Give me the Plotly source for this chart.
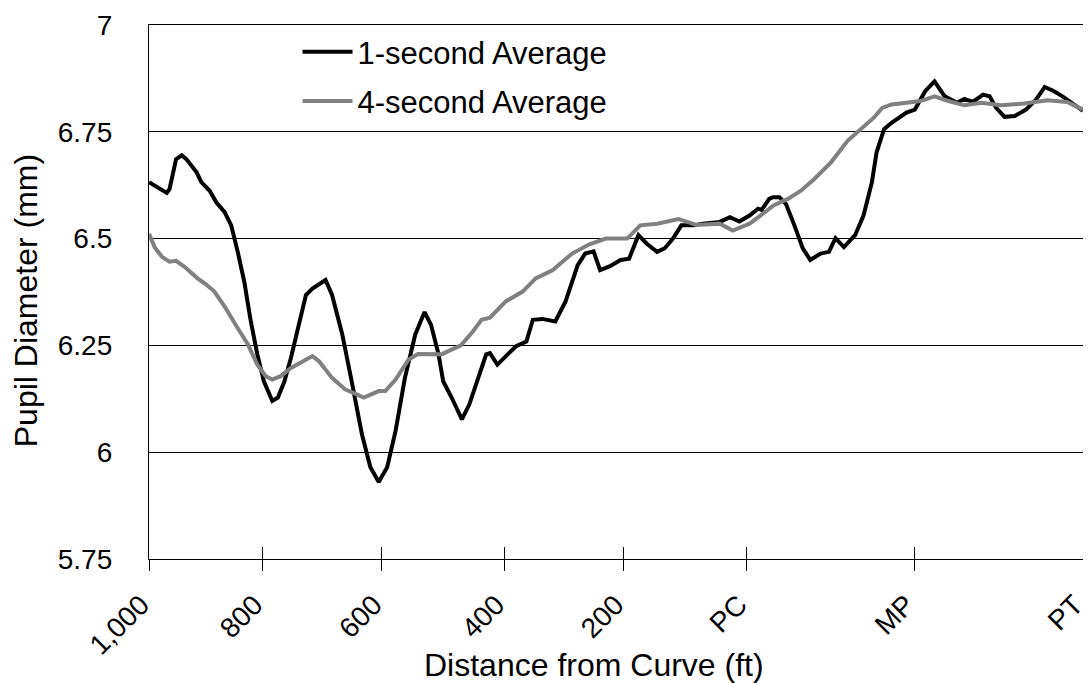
import plotly.graph_objects as go

# Position along the route (% of plotted distance)
pos_1s = [0, 1.9, 2.2, 2.9, 3.5, 4.0, 5.1, 5.6, 6.5, 7.2, 8.1, 8.8, 9.5, 10.2, 10.9, 11.6,
          12.3, 13.2, 13.8, 14.5, 15.2, 15.9, 16.8, 17.5, 18.9, 19.6, 20.7, 21.7, 22.8,
          23.7, 24.6, 25.5, 26.4, 27.4, 28.5, 29.5, 30.2, 31.0, 31.5, 32.4, 33.5, 34.3,
          35.2, 36.1, 36.5, 37.3, 38.4, 39.3, 40.4, 41.1, 42.1, 43.5, 44.6, 45.9, 46.7,
          47.6, 48.3, 49.3, 50.5, 51.4, 52.4, 53.3, 54.4, 55.2, 56.1, 57.0, 58.3, 59.3,
          61.1, 62.2, 63.2, 64.3, 65.2, 65.6, 66.4, 66.8, 67.5, 68.2, 69.1, 70.0, 70.8,
          71.9, 72.8, 73.5, 74.4, 75.6, 76.5, 77.4, 77.9, 78.7, 79.5, 80.4, 81.1, 82.0,
          83.1, 84.1, 85.2, 86.5, 87.3, 88.2, 89.3, 90.0, 90.7, 91.6, 92.7, 93.9, 95.0,
          95.9, 96.9, 97.8, 99.0, 100]
avg_1s = [6.632, 6.607, 6.616, 6.686, 6.695, 6.686, 6.655, 6.632, 6.612, 6.585, 6.562,
          6.531, 6.469, 6.399, 6.306, 6.229, 6.166, 6.120, 6.128, 6.166, 6.221, 6.290,
          6.368, 6.383, 6.403, 6.368, 6.275, 6.166, 6.042, 5.965, 5.930, 5.965, 6.050,
          6.174, 6.275, 6.328, 6.298, 6.229, 6.166, 6.128, 6.077, 6.112, 6.174, 6.229,
          6.232, 6.205, 6.229, 6.248, 6.259, 6.310, 6.312, 6.306, 6.353, 6.438, 6.465,
          6.470, 6.426, 6.435, 6.450, 6.453, 6.508, 6.488, 6.469, 6.477, 6.500, 6.531,
          6.531, 6.535, 6.539, 6.550, 6.540, 6.554, 6.570, 6.567, 6.593, 6.597, 6.597,
          6.581, 6.531, 6.477, 6.450, 6.465, 6.469, 6.501, 6.480, 6.508, 6.554, 6.632,
          6.702, 6.756, 6.771, 6.783, 6.795, 6.802, 6.845, 6.868, 6.833, 6.818, 6.827,
          6.820, 6.837, 6.833, 6.806, 6.785, 6.787, 6.802, 6.826, 6.855, 6.845, 6.833,
          6.814, 6.799]

pos_4s = [0, 0.6, 1.4, 2.2, 2.9, 3.8, 5.2, 6.1, 7.0, 8.1, 9.5, 10.6, 11.6, 12.5, 13.2,
          14.1, 15.2, 16.2, 17.5, 18.2, 19.6, 21.0, 23.0, 24.6, 25.3, 26.4, 27.8, 28.8,
          30.2, 31.3, 32.4, 33.4, 34.7, 35.6, 36.5, 38.2, 40.0, 41.4, 43.2, 45.3, 47.1,
          48.9, 51.2, 52.6, 54.4, 56.7, 58.6, 61.1, 62.5, 64.3, 65.6, 66.9, 68.4, 69.8,
          71.2, 73.0, 74.8, 76.2, 77.6, 78.5, 79.5, 81.1, 82.6, 84.1, 85.6, 87.3, 89.1,
          91.2, 93.7, 96.2, 98.3, 100]
avg_4s = [6.511, 6.480, 6.457, 6.446, 6.448, 6.434, 6.407, 6.393, 6.376, 6.341, 6.290,
          6.252, 6.205, 6.178, 6.170, 6.178, 6.197, 6.209, 6.225, 6.213, 6.174, 6.147,
          6.128, 6.143, 6.143, 6.170, 6.217, 6.230, 6.230, 6.229, 6.240, 6.250, 6.283,
          6.310, 6.315, 6.353, 6.376, 6.407, 6.426, 6.465, 6.486, 6.500, 6.500, 6.531,
          6.535, 6.546, 6.532, 6.535, 6.519, 6.535, 6.556, 6.578, 6.593, 6.612, 6.639,
          6.678, 6.729, 6.756, 6.783, 6.806, 6.814, 6.818, 6.822, 6.833, 6.822, 6.812,
          6.818, 6.812, 6.816, 6.824, 6.820, 6.802]

tick_pos = [0, 12.16, 24.93, 38.05, 50.82, 64.01, 81.95, 100]
tick_labels = ["1,000", "800", "600", "400", "200", "PC", "MP", "PT"]
y_ticks = [5.75, 6, 6.25, 6.5, 6.75, 7]
y_labels = ["5.75", "6", "6.25", "6.5", "6.75", "7"]
x_title = "Distance from Curve (ft)"
y_title = "Pupil Diameter (mm)"

FONT = "Liberation Sans, Arial, sans-serif"

fig = go.Figure()
fig.add_trace(go.Scatter(x=pos_1s, y=avg_1s, mode="lines", name="1-second Average",
                         line=dict(color="#000000", width=4), legendgroup="a"))
fig.add_trace(go.Scatter(x=pos_4s, y=avg_4s, mode="lines", name="4-second Average",
                         line=dict(color="#808080", width=4), legendgroup="b"))
# helper trace so the overlay axis (inner half of crossing ticks) is drawn
fig.add_trace(go.Scatter(x=[None], y=[None], xaxis="x2", showlegend=False, hoverinfo="skip"))

# the page body adds an 8px margin, so the figure is 8px smaller and shifted
fig.update_layout(
    width=1083, height=675,
    margin=dict(l=141, r=2, t=14, b=124),
    paper_bgcolor="white", plot_bgcolor="white",
    font=dict(family=FONT, size=28, color="black"),
    showlegend=True,
    legend=dict(x=0.159, y=1.0, xanchor="left", yanchor="top", bgcolor="rgba(0,0,0,0)",
                font=dict(size=31), tracegroupgap=6, itemwidth=50),
    xaxis=dict(range=[0, 100], tickmode="array", tickvals=tick_pos, ticktext=tick_labels,
               tickangle=-45, ticks="outside", ticklen=11, tickwidth=1.3, tickcolor="black",
               showline=True, linecolor="black", linewidth=1.3, mirror=True,
               showgrid=False, zeroline=False, ticklabelstandoff=6, ticklabelshift=-8,
               ticklabeloverflow="allow"),
    xaxis2=dict(range=[0, 100], overlaying="x", side="bottom", tickmode="array",
                tickvals=tick_pos, ticks="inside", ticklen=12, tickwidth=1.3,
                tickcolor="black", showticklabels=False, showgrid=False,
                zeroline=False, showline=False),
    yaxis=dict(range=[5.75, 7], tickmode="array", tickvals=y_ticks, ticktext=y_labels,
               ticks="", showline=True, linecolor="black", linewidth=1.3, mirror=True,
               showgrid=True, gridcolor="black", gridwidth=1.3, zeroline=False,
               ticklabelstandoff=30, ticklabeloverflow="allow"),
    annotations=[
        dict(text=x_title, xref="paper", yref="paper", x=0.4765, y=-0.198,
             xanchor="center", yanchor="middle", showarrow=False, font=dict(size=32)),
        dict(text=y_title, xref="paper", yref="paper", x=-0.132, y=0.484, textangle=-90,
             xanchor="center", yanchor="middle", showarrow=False, font=dict(size=32)),
    ],
)

fig.write_html("out.html")
